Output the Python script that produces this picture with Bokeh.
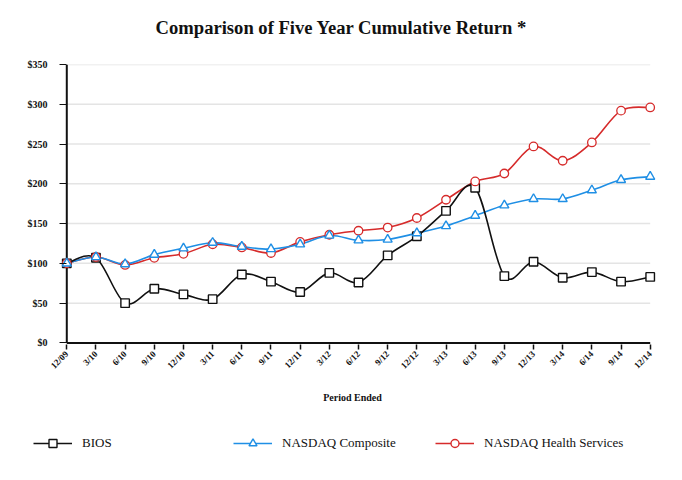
import math
from bokeh.plotting import figure
from bokeh.layouts import column
from bokeh.models import Range1d, FixedTicker, Legend, LegendItem, Label
from bokeh.embed import file_html
from bokeh.resources import INLINE

periods = ["12/09", "3/10", "6/10", "9/10", "12/10", "3/11", "6/11", "9/11", "12/11",
           "3/12", "6/12", "9/12", "12/12", "3/13", "6/13", "9/13", "12/13", "3/14",
           "6/14", "9/14", "12/14"]
bios = [100, 107, 50, 68, 61, 55, 86, 77, 64, 88, 76, 110, 134, 166, 195, 84, 102, 82, 89, 77, 83]
nasdaq_composite = [100, 108, 99, 111, 119, 126, 121, 118, 124, 135, 129, 130, 138, 147, 160, 173, 181, 181, 192, 205, 209]
nasdaq_health = [100, 108, 98, 107, 112, 124, 120, 113, 127, 136, 141, 145, 157, 180, 203, 213, 247, 229, 252, 292, 296]
y_ticks = [0, 50, 100, 150, 200, 250, 300, 350]
y_tick_labels = ["$0", "$50", "$100", "$150", "$200", "$250", "$300", "$350"]
series_names = ["BIOS", "NASDAQ Composite", "NASDAQ Health Services"]
title_text = "Comparison of Five Year Cumulative Return *"
x_caption = "Period Ended"

SERIF = "Liberation Serif"
BLACK = "#111111"
BLUE = "#1f8fe5"
RED = "#d62b2b"

xs = list(range(len(periods)))
n = len(xs)


def strip(height):
    f = figure(width=666, height=height, output_backend="svg", toolbar_location=None,
               x_range=Range1d(0, 1), y_range=Range1d(0, 1),
               min_border=0, x_axis_location=None, y_axis_location=None)
    f.frame_align = False
    f.outline_line_color = None
    f.xgrid.visible = False
    f.ygrid.visible = False
    return f


# top strip: title
t = strip(44)
t.add_layout(Label(x=341, y=17.5, x_units="screen", y_units="screen", text=title_text,
                   text_align="center", text_baseline="middle", text_font=SERIF,
                   text_font_style="bold", text_font_size="18.6px", text_color=BLACK))

p = figure(width=666, height=336, output_backend="svg", toolbar_location=None,
           x_range=Range1d(-0.25, n - 1 + 0.25), y_range=Range1d(-2, y_ticks[-1]),
           min_border_left=59, min_border_right=9, min_border_top=20, min_border_bottom=36)
p.frame_align = False
p.outline_line_color = None
p.xgrid.visible = False
p.ygrid.visible = False

# axes
p.yaxis.ticker = FixedTicker(ticks=y_ticks)
p.yaxis.major_label_overrides = {tk: lb for tk, lb in zip(y_ticks, y_tick_labels)}
p.yaxis.axis_line_color = None
p.yaxis.major_tick_in = 7
p.yaxis.major_tick_out = 0
p.yaxis.minor_tick_line_color = None
p.yaxis.major_tick_line_color = BLACK
p.yaxis.major_label_standoff = 12
p.yaxis.major_label_text_font = SERIF
p.yaxis.major_label_text_font_style = "bold"
p.yaxis.major_label_text_font_size = "10px"
p.yaxis.major_label_text_color = BLACK

p.xaxis.ticker = FixedTicker(ticks=xs)
p.xaxis.major_label_overrides = {i: s for i, s in enumerate(periods)}
p.xaxis.axis_line_color = None
p.xaxis.major_tick_in = 0
p.xaxis.major_tick_out = 5
p.xaxis.minor_tick_line_color = None
p.xaxis.major_tick_line_color = BLACK
p.xaxis.major_tick_line_width = 1.5
p.xaxis.major_label_orientation = math.pi / 4
p.xaxis.major_label_standoff = 3
p.xaxis.major_label_text_font = SERIF
p.xaxis.major_label_text_font_style = "bold"
p.xaxis.major_label_text_font_size = "9px"
p.xaxis.major_label_text_color = BLACK

# grid lines from the y axis to the last period
gy = y_ticks[1:]
p.segment(x0=[xs[0]] * len(gy), y0=gy, x1=[xs[-1]] * len(gy), y1=gy,
          line_color="#e4e4e4", line_width=1.5)
# axis lines
p.segment(x0=[xs[0]], y0=[0], x1=[xs[0]], y1=[y_ticks[-1]], line_color=BLACK, line_width=2)
p.segment(x0=[xs[0]], y0=[0], x1=[xs[-1]], y1=[0], line_color=BLACK, line_width=2)


def smooth(vals, color):
    x0, y0, x1, y1, cx0, cy0, cx1, cy1 = [], [], [], [], [], [], [], []
    for i in range(n - 1):
        pm = i - 1 if i > 0 else i
        pp = i + 2 if i + 2 < n else i + 1
        x0.append(xs[i]); y0.append(vals[i])
        x1.append(xs[i + 1]); y1.append(vals[i + 1])
        cx0.append(xs[i] + (xs[i + 1] - xs[pm]) / 6.0)
        cy0.append(vals[i] + (vals[i + 1] - vals[pm]) / 6.0)
        cx1.append(xs[i + 1] - (xs[pp] - xs[i]) / 6.0)
        cy1.append(vals[i + 1] - (vals[pp] - vals[i]) / 6.0)
    p.bezier(x0=x0, y0=y0, x1=x1, y1=y1, cx0=cx0, cy0=cy0, cx1=cx1, cy1=cy1,
             line_color=color, line_width=1.6)


smooth(nasdaq_health, RED)
smooth(nasdaq_composite, BLUE)
smooth(bios, BLACK)

p.scatter(xs, bios, marker="square", size=8.5, fill_color="white",
          line_color=BLACK, line_width=1.4)
p.scatter(xs, nasdaq_health, marker="circle", size=8.5, fill_color="white",
          line_color=RED, line_width=1.3)
p.scatter(xs, nasdaq_composite, marker="triangle", size=9, fill_color="white",
          line_color=BLUE, line_width=1.4)

# bottom strip: axis caption and legend
q = strip(84)
q.add_layout(Label(x=352, y=67, x_units="screen", y_units="screen", text=x_caption,
                   text_align="center", text_baseline="middle", text_font=SERIF,
                   text_font_style="bold", text_font_size="10px", text_color=BLACK))

nan = float("nan")
styles = [(BLACK, "square", 33), (BLUE, "triangle", 233), (RED, "circle", 435)]
for name, (col, mk, xloc) in zip(series_names, styles):
    lr = q.line([nan], [nan], line_color=col, line_width=1.6)
    sr = q.scatter([nan], [nan], marker=mk, size=9, fill_color="white",
                   line_color=col, line_width=1.4)
    lg = Legend(items=[LegendItem(label=name, renderers=[lr, sr])], location=(xloc, 11),
                padding=0, margin=0, glyph_width=39, glyph_height=20, label_height=20,
                label_standoff=10, background_fill_alpha=0, border_line_color=None,
                label_text_font=SERIF, label_text_font_size="13px", label_text_color=BLACK)
    q.add_layout(lg)

open("out.html", "w").write(file_html(column(t, p, q, spacing=0), INLINE))
